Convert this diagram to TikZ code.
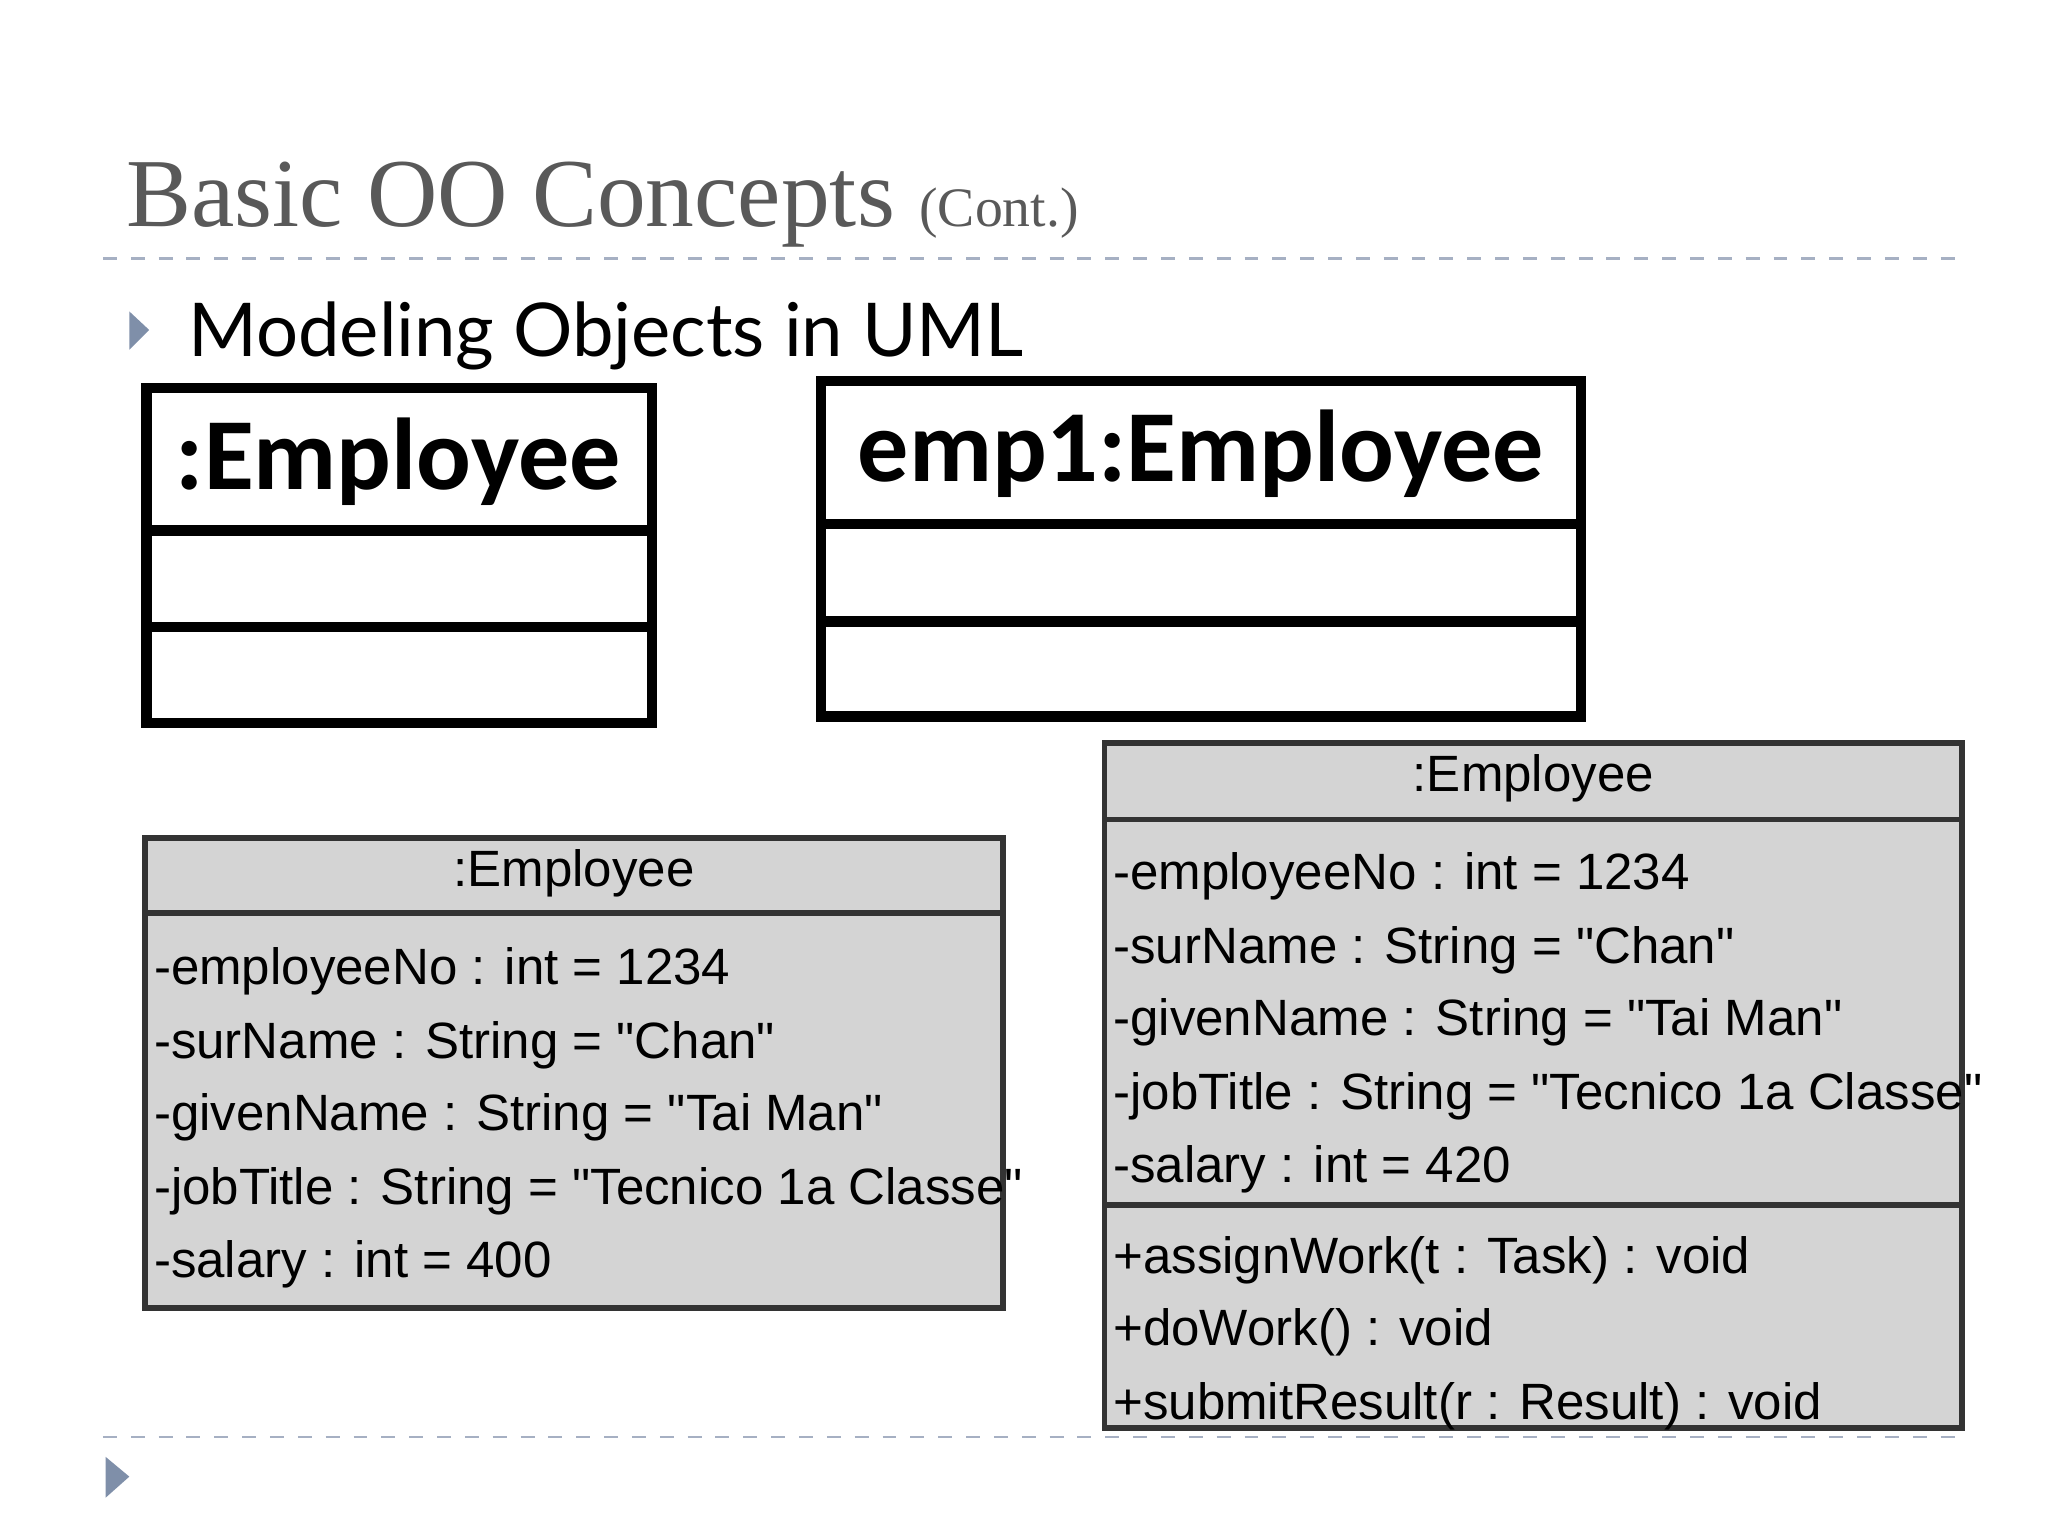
\documentclass[tikz,border=0pt]{standalone}
\usepackage{fontspec}
\setmainfont{Liberation Serif}
\newfontfamily\gillf{Lato}
\newfontfamily\calf{Carlito}
\newfontfamily\arf{Liberation Sans}
\definecolor{titlegrey}{HTML}{595959}
\definecolor{dashc}{HTML}{A6B0C3}
\definecolor{bulc}{HTML}{7F8FA9}
\definecolor{boxfill}{HTML}{D4D4D4}
\tikzset{
  P/.style={x=0.01cm,y=-0.01cm},
  objbox/.style={draw=black,line width=2.2pt},
  umlbox/.style={draw=black!80,fill=boxfill,line width=1.2pt},
  attr/.style={anchor=base west,inner sep=0pt,font=\arf\fontsize{11}{13}\selectfont},
  hdr/.style={inner sep=0pt,font=\arf\fontsize{11}{13}\selectfont},
  big/.style={inner sep=0pt,font=\calf\bfseries\fontsize{22}{26}\selectfont},
  sep/.style={dashc,dashed,line width=0.6pt},
}
\begin{document}
\begin{tikzpicture}[P]
\useasboundingbox (0,0) rectangle (1552,1164);
% title
\node[anchor=base west,inner sep=0pt,text=titlegrey,font=\fontsize{21}{24}\selectfont] (title) at (95,172) {Basic OO Concepts {\fontsize{12}{14}\selectfont (Cont.)}};
\draw[sep] (78,196) -- (1490,196);
\fill[bulc] (98,236) -- (113,250) -- (98,265) -- cycle;
\node[anchor=base west,inner sep=0pt,font=\gillf\fontsize{16}{19}\selectfont] (sub) at (142,270) {Modeling Objects in UML};
% box 1
\draw[objbox] (111,294) rectangle (494,548);
\draw[objbox] (111,402) -- (494,402);
\draw[objbox] (111,475) -- (494,475);
\node[big] (b1) at (302,350) {:Employee};
% box 2
\draw[objbox] (622,289) rectangle (1198,543);
\draw[objbox] (622,397) -- (1198,397);
\draw[objbox] (622,471) -- (1198,471);
\node[big] (b2) at (910,344) {emp1:Employee};
% box 3
\draw[umlbox] (110,635) rectangle (760,991);
\draw[black!80,line width=1.2pt] (110,692) -- (760,692);
\node[hdr] (h3) at (435,662) {:Employee};
\node[attr] (a31) at (116,746) {-employeeNo : int = 1234};
\node[attr] (a32) at (116,802) {-surName : String = "Chan"};
\node[attr] (a33) at (116,857) {-givenName : String = "Tai Man"};
\node[attr] (a34) at (116,913) {-jobTitle : String = "Tecnico 1a Classe"};
\node[attr] (a35) at (116,968) {-salary : int = 400};
% box 4
\draw[umlbox] (837,563) rectangle (1487,1082);
\draw[black!80,line width=1.2pt] (837,621) -- (1487,621);
\draw[black!80,line width=1.2pt] (837,913) -- (1487,913);
\node[hdr] (h4) at (1162,590) {:Employee};
\node[attr] (a41) at (843,674) {-employeeNo : int = 1234};
\node[attr] (a42) at (843,730) {-surName : String = "Chan"};
\node[attr] (a43) at (843,785) {-givenName : String = "Tai Man"};
\node[attr] (a44) at (843,841) {-jobTitle : String = "Tecnico 1a Classe"};
\node[attr] (a45) at (843,896) {-salary : int = 420};
\node[attr] (o1) at (843,965) {+assignWork(t : Task) : void};
\node[attr] (o2) at (843,1020) {+doWork() : void};
\node[attr] (o3) at (843,1076) {+submitResult(r : Result) : void};
% footer
\draw[sep] (78,1089) -- (1490,1089);
\fill[bulc] (80,1104) -- (98,1119) -- (80,1135) -- cycle;
\end{tikzpicture}
\end{document}
